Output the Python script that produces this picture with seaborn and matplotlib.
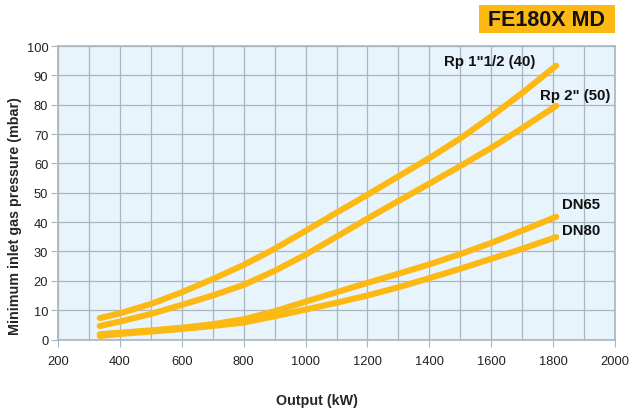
import pandas as pd
import matplotlib.pyplot as plt
import seaborn as sns
from matplotlib.patches import Rectangle
from matplotlib.ticker import MultipleLocator

# Data (output in kW, pressure in mbar)
output_kw = [335, 400, 500, 600, 700, 800, 900, 1000, 1100, 1200, 1300, 1400, 1500, 1600, 1700, 1810]
rp_1_1_2 = [7.3, 8.9, 12.1, 16.1, 20.6, 25.4, 30.9, 37.0, 43.2, 49.3, 55.6, 61.8, 68.5, 76.0, 84.0, 93.3]
rp_2 = [4.6, 6.1, 8.7, 11.8, 15.0, 18.6, 23.4, 28.9, 35.0, 41.2, 47.2, 53.1, 59.1, 65.3, 72.0, 79.6]
dn65 = [1.8, 2.3, 3.1, 4.0, 5.2, 6.9, 9.6, 12.9, 16.1, 19.3, 22.4, 25.6, 29.1, 32.9, 37.1, 41.8]
dn80 = [1.2, 1.9, 2.7, 3.6, 4.6, 5.8, 7.9, 10.2, 12.5, 15.0, 17.8, 20.9, 24.1, 27.5, 30.9, 34.9]

series_names = ['Rp 1"1/2 (40)', 'Rp 2" (50)', 'DN65', 'DN80']
series_values = [rp_1_1_2, rp_2, dn65, dn80]
# label anchor points (left edge, vertical centre) in data units
label_x = [1447, 1759, 1830, 1830]
label_y = [94.9, 83.2, 46.0, 37.4]

title = 'FE180X MD'

df = pd.concat([
    pd.DataFrame({'Output': output_kw, 'Pressure': vals, 'Valve': name})
    for name, vals in zip(series_names, series_values)
])

sns.set_style('white')
plt.rcParams['font.family'] = ['Liberation Sans', 'DejaVu Sans']

yellow = '#FDB913'
grid_col = '#A9B5BF'

fig = plt.figure(figsize=(6.31, 4.10), dpi=100)
ax = fig.add_axes([58 / 631, 1 - 340.5 / 410, 557 / 631, 293.5 / 410])
ax.set_facecolor('#E7F4FC')

sns.lineplot(data=df, x='Output', y='Pressure', units='Valve', estimator=None,
             color=yellow, linewidth=4.4, solid_capstyle='round', solid_joinstyle='round',
             ax=ax, legend=False)

ax.set_xlim(200, 2000)
ax.set_ylim(0, 100)
ax.xaxis.set_major_locator(MultipleLocator(200))
ax.xaxis.set_minor_locator(MultipleLocator(100))
ax.yaxis.set_major_locator(MultipleLocator(10))
ax.grid(which='both', color=grid_col, linewidth=0.9)
ax.set_axisbelow(True)
for sp in ax.spines.values():
    sp.set_color(grid_col)
    sp.set_linewidth(1.2)

ax.tick_params(axis='x', which='major', length=5, color=grid_col, pad=6, labelsize=9.3,
               labelcolor='#222222', bottom=True)
ax.tick_params(axis='x', which='minor', length=0)
ax.tick_params(axis='y', length=5, color=grid_col, pad=2, labelsize=9.3,
               labelcolor='#222222', left=True)

ax.set_xlabel('Output (kW)', fontsize=10.3, fontweight='bold', va='center')
ax.xaxis.set_label_coords(0.4655, -0.206)
ax.set_ylabel('Minimum inlet gas pressure (mbar)', fontsize=10.3, fontweight='bold', va='center')
ax.yaxis.set_label_coords(-0.077, 0.424)

for name, lx, ly in zip(series_names, label_x, label_y):
    ax.text(lx, ly, name, fontsize=10.8, fontweight='bold', ha='left', va='center', color='#111111')

# title box top right
fig.patches.append(Rectangle((479 / 631, 1 - 33.7 / 410), 136 / 631, 27.7 / 410,
                             transform=fig.transFigure, facecolor=yellow, edgecolor='none'))
fig.text(547 / 631, 1 - 20 / 410, title, fontsize=15.5, fontweight='heavy',
         ha='center', va='center', color='#111111')

fig.savefig('out.png', dpi=100)
